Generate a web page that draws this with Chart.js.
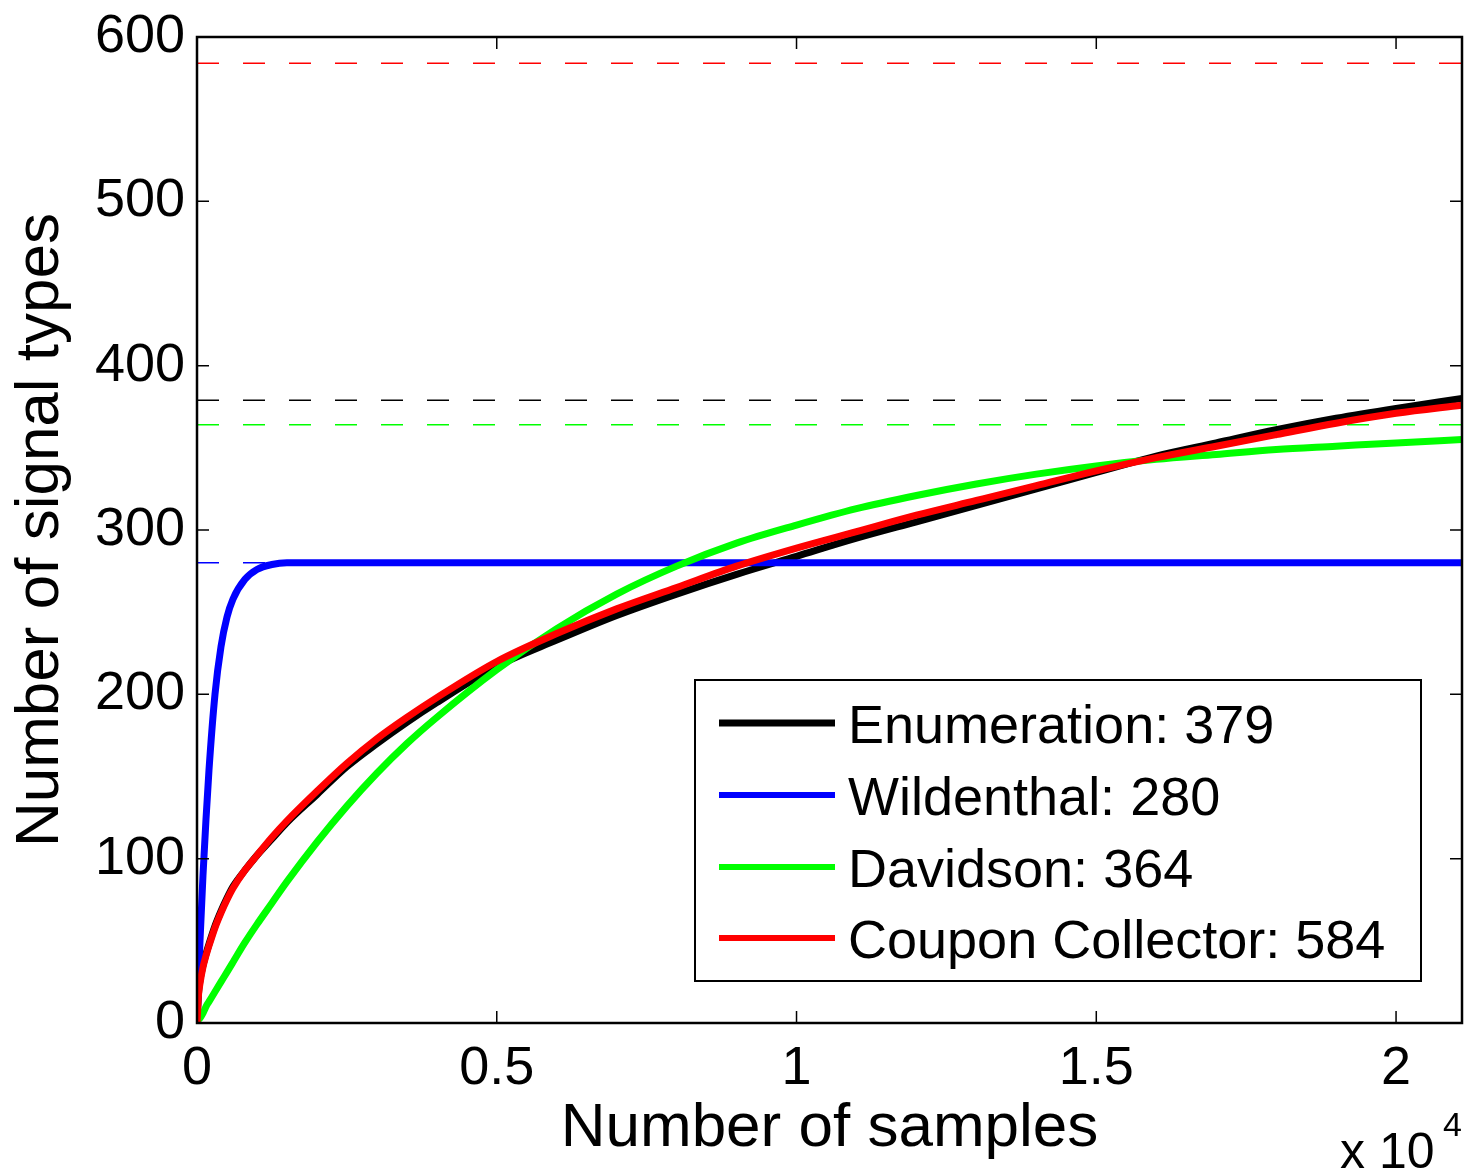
<!DOCTYPE html>
<html>
<head>
<meta charset="utf-8">
<script src="https://cdn.jsdelivr.net/npm/chart.js@4.4.0/dist/chart.umd.min.js"></script>
<style>
  html, body { margin: 0; padding: 0; background: #fff; }
  canvas { display: block; }
</style>
</head>
<body>
<canvas id="chart" width="1477" height="1173"></canvas>
<script>
// values
const samples = [0, 25, 50, 100, 150, 200, 300, 400, 500, 600, 800, 1000, 1250, 1500, 2000, 2500,
  3000, 3500, 4000, 5000, 6000, 7000, 8000, 9000, 10000, 11000, 12000, 13000, 14000, 15000,
  16000, 17000, 18000, 19000, 20000, 21100];
const enumeration = [0, 18, 26, 35, 42, 48, 59, 68, 76, 83, 93, 102, 112, 122, 139, 156, 170, 183,
  195, 217, 233, 248, 261, 273, 284, 295, 305, 315, 325, 335, 345, 353, 361, 368, 374, 380];
const wildenthal = [0, 26, 50, 90, 124, 154, 200, 229, 247, 258, 270, 276, 279, 280, 280, 280, 280,
  280, 280, 280, 280, 280, 280, 280, 280, 280, 280, 280, 280, 280, 280, 280, 280, 280, 280, 280];
const davidson = [0, 2, 3, 6, 10, 13, 19, 25, 31, 37, 49, 60, 73, 86, 110, 132, 152, 170, 186, 215,
  240, 261, 278, 292, 303, 313, 321, 328, 334, 339, 343, 346, 349, 351, 353, 355];
const coupon = [0, 17, 24, 34, 41, 47, 58, 67, 75, 82, 93, 102, 113, 123, 141, 158, 173, 186, 198,
  220, 237, 252, 265, 278, 289, 299, 309, 318, 327, 336, 344, 351, 358, 365, 371, 376];

const seriesNames = ["Enumeration", "Wildenthal", "Davidson", "Coupon Collector"];
const estimates = [379, 280, 364, 584];
const seriesColors = ["#000000", "#0000ff", "#00ff00", "#ff0000"];

const xTicks = [0, 5000, 10000, 15000, 20000];
const xTickLabels = ["0", "0.5", "1", "1.5", "2"];
const yTicks = [0, 100, 200, 300, 400, 500, 600];
const xMax = 21100;

const FONT = '"Liberation Sans", Arial, Helvetica, sans-serif';
Chart.defaults.font.family = FONT;
Chart.defaults.color = "#000";

const toPoints = (ys) => ys.map((v, i) => ({ x: samples[i], y: v }));

const curves = [enumeration, wildenthal, davidson, coupon];
const datasets = [];

// the four curves; red on top, then green, blue, black
curves.forEach((ys, i) => {
  datasets.push({
    label: seriesNames[i],
    data: toPoints(ys),
    borderColor: seriesColors[i],
    borderWidth: 7,
    pointRadius: 0,
    cubicInterpolationMode: "monotone",
    order: 4 - i,
  });
});

// dashed estimate lines under everything
estimates.forEach((v, i) => {
  datasets.push({
    label: seriesNames[i] + " estimate",
    data: [{ x: 0, y: v }, { x: xMax, y: v }],
    borderColor: seriesColors[i],
    borderWidth: 1.5,
    borderDash: [22, 24],
    pointRadius: 0,
    order: 10,
  });
});

// box, inward ticks, legend and the exponent label, MATLAB style
const matlabAxes = {
  id: "matlabAxes",
  afterDatasetsDraw(chart) {
    const { ctx, chartArea: a, scales: { x, y } } = chart;
    ctx.save();
    ctx.strokeStyle = "#000";
    ctx.lineWidth = 1.5;
    const tl = 12;
    ctx.beginPath();
    xTicks.forEach((t) => {
      const px = x.getPixelForValue(t);
      ctx.moveTo(px, a.bottom); ctx.lineTo(px, a.bottom - tl);
      ctx.moveTo(px, a.top); ctx.lineTo(px, a.top + tl);
    });
    yTicks.forEach((t) => {
      const py = y.getPixelForValue(t);
      ctx.moveTo(a.left, py); ctx.lineTo(a.left + tl, py);
      ctx.moveTo(a.right, py); ctx.lineTo(a.right - tl, py);
    });
    ctx.stroke();
    ctx.lineWidth = 2.5;
    ctx.strokeRect(a.left, a.top, a.right - a.left, a.bottom - a.top);

    // legend
    const lx = 695, ly = 680, lw = 726, lh = 301;
    ctx.fillStyle = "#fff";
    ctx.fillRect(lx, ly, lw, lh);
    ctx.lineWidth = 2;
    ctx.strokeRect(lx, ly, lw, lh);
    const rows = [723, 795, 867, 938];
    ctx.font = "54px " + FONT;
    ctx.textAlign = "left";
    ctx.textBaseline = "alphabetic";
    seriesNames.forEach((name, i) => {
      ctx.strokeStyle = seriesColors[i];
      ctx.lineWidth = i === 0 ? 7 : 6;
      ctx.beginPath();
      ctx.moveTo(719, rows[i]);
      ctx.lineTo(835, rows[i]);
      ctx.stroke();
      ctx.fillStyle = "#000";
      ctx.fillText(name + ": " + estimates[i], 848, rows[i] + 20);
    });

    // x 10^4
    ctx.fillStyle = "#000";
    ctx.font = "50px " + FONT;
    ctx.fillText("x 10", 1340, 1168);
    ctx.font = "34px " + FONT;
    ctx.fillText("4", 1443, 1136);
    ctx.restore();
  },
};

new Chart(document.getElementById("chart"), {
  type: "line",
  data: { datasets },
  plugins: [matlabAxes],
  options: {
    responsive: false,
    animation: false,
    layout: { padding: { left: 0, top: 37, right: 15, bottom: 0 } },
    plugins: { legend: { display: false }, tooltip: { enabled: false } },
    scales: {
      x: {
        type: "linear",
        min: 0,
        max: xMax,
        afterBuildTicks: (scale) => { scale.ticks = xTicks.map((v) => ({ value: v })); },
        afterFit: (scale) => {
          scale.height = 150;
          scale.paddingLeft = 0;
          scale.paddingRight = 0;
        },
        grid: { display: false, drawTicks: false },
        border: { display: false },
        ticks: {
          padding: 14,
          maxRotation: 0,
          font: { size: 54 },
          callback: (v) => xTickLabels[xTicks.indexOf(v)],
        },
        title: {
          display: true,
          text: "Number of samples",
          font: { size: 62 },
          padding: { top: 0, bottom: 7 },
        },
      },
      y: {
        min: 0,
        max: 600,
        afterBuildTicks: (scale) => { scale.ticks = yTicks.map((v) => ({ value: v })); },
        afterFit: (scale) => {
          scale.width = 197;
          scale.paddingTop = 0;
          scale.paddingBottom = 0;
        },
        grid: { display: false, drawTicks: false },
        border: { display: false },
        ticks: { padding: 12, font: { size: 54 } },
        title: {
          display: true,
          text: "Number of signal types",
          font: { size: 62 },
          padding: { top: 4, bottom: 0 },
        },
      },
    },
  },
});
</script>
</body>
</html>
